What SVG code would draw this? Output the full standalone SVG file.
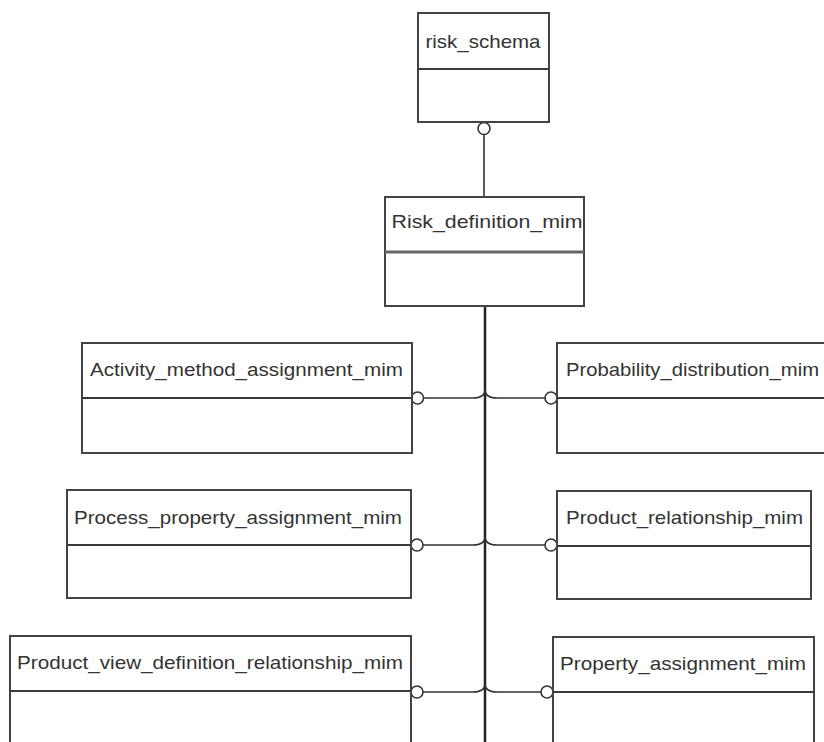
<svg xmlns="http://www.w3.org/2000/svg" width="824" height="742" viewBox="0 0 824 742">
<style>
.box{fill:#fff;stroke:#444;stroke-width:2}
.div{stroke:#3a3a3a;stroke-width:2}
.lbl{font-family:"Liberation Sans",Arial,sans-serif;font-size:19px;fill:#333;text-anchor:middle}
.con{fill:none;stroke:#333;stroke-width:1.6}
.trunk{fill:none;stroke:#222;stroke-width:2.5}
.end{fill:#fff;stroke:#333;stroke-width:1.6}
</style>
<rect width="824" height="742" fill="#fff"/>
<g id="connectors">
<line class="con" x1="484" y1="134" x2="484" y2="197"/>
<line class="trunk" x1="485" y1="306" x2="485" y2="742"/>
<path class="con" d="M423 398 L473 398 C480 398 485 396 485 390"/>
<path class="con" d="M485 390 C485 396 490 398 497 398 L551 398"/>
<path class="con" d="M423 545 L473 545 C480 545 485 543 485 537"/>
<path class="con" d="M485 537 C485 543 490 545 497 545 L551 545"/>
<path class="con" d="M423 692 L473 692 C480 692 485 690 485 684"/>
<path class="con" d="M485 684 C485 690 490 692 497 692 L547 692"/>
<circle class="end" cx="484" cy="128.5" r="6"/>
<circle class="end" cx="417.5" cy="398" r="6"/>
<circle class="end" cx="551" cy="398" r="6"/>
<circle class="end" cx="417" cy="545" r="6"/>
<circle class="end" cx="551" cy="545" r="6"/>
<circle class="end" cx="417" cy="692" r="6"/>
<circle class="end" cx="547" cy="692" r="6"/>
</g>
<g id="risk_schema">
<rect class="box" x="418" y="13" width="131" height="109"/>
<line class="div" x1="418" y1="69" x2="549" y2="69"/>
<text class="lbl" x="483" y="48" textLength="115" lengthAdjust="spacingAndGlyphs">risk_schema</text>
</g>
<g id="Risk_definition_mim">
<rect class="box" x="385" y="197" width="199" height="109"/>
<line x1="385" y1="252" x2="584" y2="252" stroke="#666" stroke-width="3"/>
<text class="lbl" x="487" y="228" textLength="191" lengthAdjust="spacingAndGlyphs">Risk_definition_mim</text>
</g>
<g id="Activity_method_assignment_mim">
<rect class="box" x="82" y="343" width="330" height="110"/>
<line class="div" x1="82" y1="398" x2="412" y2="398"/>
<text class="lbl" x="246.5" y="376" textLength="313" lengthAdjust="spacingAndGlyphs">Activity_method_assignment_mim</text>
</g>
<g id="Probability_distribution_mim">
<rect class="box" x="557" y="343" width="272" height="110"/>
<line class="div" x1="557" y1="398" x2="829" y2="398"/>
<text class="lbl" x="692.5" y="376" textLength="253" lengthAdjust="spacingAndGlyphs">Probability_distribution_mim</text>
</g>
<g id="Process_property_assignment_mim">
<rect class="box" x="67" y="490" width="344" height="108"/>
<line class="div" x1="67" y1="545" x2="411" y2="545"/>
<text class="lbl" x="238" y="524" textLength="328" lengthAdjust="spacingAndGlyphs">Process_property_assignment_mim</text>
</g>
<g id="Product_relationship_mim">
<rect class="box" x="557" y="491" width="254" height="108"/>
<line class="div" x1="557" y1="546" x2="811" y2="546"/>
<text class="lbl" x="684.5" y="524" textLength="237" lengthAdjust="spacingAndGlyphs">Product_relationship_mim</text>
</g>
<g id="Product_view_definition_relationship_mim">
<rect class="box" x="10" y="636" width="401" height="120"/>
<line class="div" x1="10" y1="691" x2="411" y2="691"/>
<text class="lbl" x="210" y="669" textLength="386" lengthAdjust="spacingAndGlyphs">Product_view_definition_relationship_mim</text>
</g>
<g id="Property_assignment_mim">
<rect class="box" x="553" y="637" width="261" height="120"/>
<line class="div" x1="553" y1="692" x2="814" y2="692"/>
<text class="lbl" x="683" y="670" textLength="246" lengthAdjust="spacingAndGlyphs">Property_assignment_mim</text>
</g>
</svg>
